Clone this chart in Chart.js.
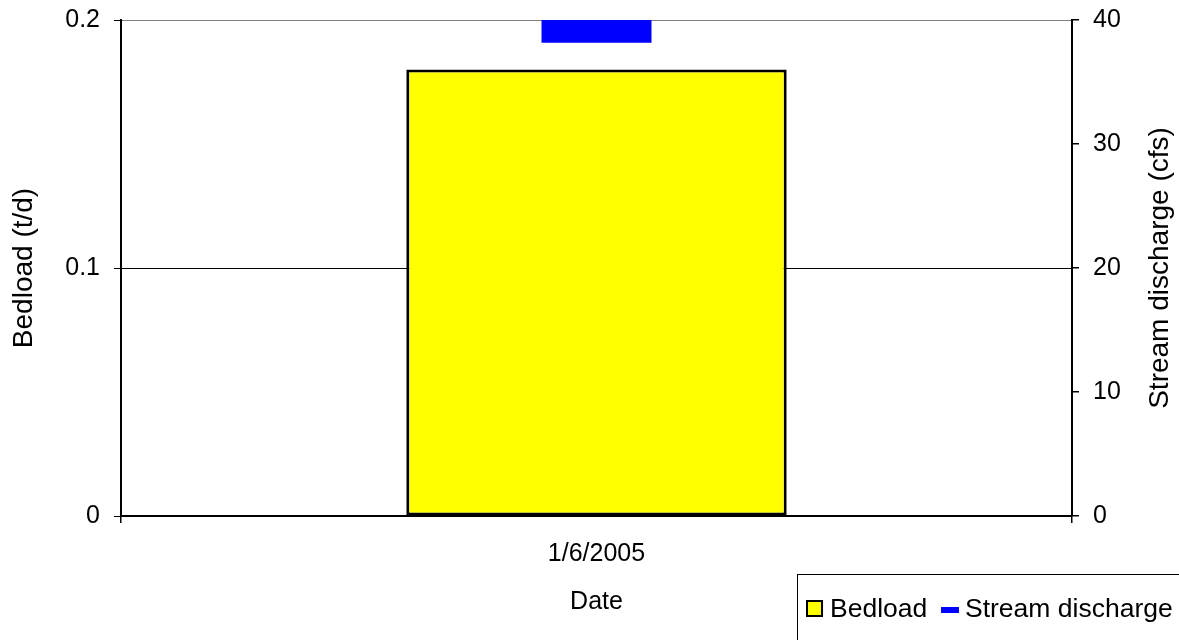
<!DOCTYPE html>
<html>
<head>
<meta charset="utf-8">
<script src="https://cdn.jsdelivr.net/npm/chart.js@4"></script>
<style>
  body { margin: 0; background: #fff; }
  #wrap { width: 1179px; height: 640px; }
</style>
</head>
<body>
<div id="wrap"><canvas id="cv1" width="1179" height="640"></canvas></div>
<script>
// chart values
const dates = ['1/6/2005'];
const bedload = [0.18];          // t/d
const discharge = [39.1];        // cfs
const leftTicks = [0, 0.1, 0.2];
const rightTicks = [0, 10, 20, 30, 40];

const FONT = 'Liberation Sans, Arial, sans-serif';
Chart.defaults.font.family = FONT;
Chart.defaults.font.size = 25;
Chart.defaults.color = '#000';

// right axis title reads bottom-to-top, so draw it ourselves
const rightTitle = {
  id: 'rightTitle',
  afterDraw(chart) {
    const c = chart.ctx, a = chart.chartArea;
    c.save();
    c.font = '28px ' + FONT;
    c.fillStyle = '#000';
    c.translate(1160, (a.top + a.bottom) / 2);
    c.rotate(-Math.PI / 2);
    c.textAlign = 'center';
    c.textBaseline = 'middle';
    c.fillText('Stream discharge (cfs)', 0, 0);
    c.restore();
  }
};

// boxed legend in the bottom right corner
const boxLegend = {
  id: 'boxLegend',
  afterDraw(chart) {
    const c = chart.ctx;
    const ds = chart.data.datasets;
    c.save();
    c.strokeStyle = '#000';
    c.lineWidth = 1;
    c.strokeRect(797.5, 574.5, 420, 100);
    // bedload swatch
    c.fillStyle = ds[0].backgroundColor;
    c.fillRect(807, 601, 15, 15);
    c.lineWidth = 2;
    c.strokeRect(807, 601, 15, 15);
    // discharge swatch
    c.fillStyle = ds[1].borderColor;
    c.fillRect(941, 607, 18, 6);
    c.fillStyle = '#000';
    c.font = '26.5px ' + FONT;
    c.textBaseline = 'alphabetic';
    c.fillText(ds[0].label, 830, 617);
    c.fillText(ds[1].label, 965, 617);
    c.restore();
  }
};

function fixV(w) {
  return s => { s.width = w; s.paddingTop = 0; s.paddingBottom = 0; };
}

const ctx = document.getElementById('cv1').getContext('2d');
const chart = new Chart(ctx, {
  data: {
    labels: dates,
    datasets: [{
      type: 'bar',
      label: 'Bedload',
      data: bedload,
      yAxisID: 'y',
      backgroundColor: '#FFFF00',
      borderColor: '#000',
      borderWidth: 3,
      borderSkipped: false,
      barPercentage: 0.4,
      categoryPercentage: 1,
      order: 2
    }, {
      type: 'line',
      label: 'Stream discharge',
      data: discharge,
      yAxisID: 'y1',
      showLine: false,
      borderColor: '#0000FF',
      backgroundColor: '#0000FF',
      pointStyle: 'line',
      pointRadius: 55,
      pointHoverRadius: 55,
      pointBorderWidth: 23,
      order: 1
    }]
  },
  options: {
    responsive: false,
    animation: false,
    layout: { autoPadding: false, padding: { top: 20, left: 0, right: 0, bottom: 0 } },
    plugins: {
      legend: { display: false },
      tooltip: { enabled: false }
    },
    scales: {
      x: {
        afterFit(s) { s.height = 124; s.paddingLeft = 0; s.paddingRight = 0; },
        grid: { offset: true, drawOnChartArea: false, tickLength: 7, color: '#000', lineWidth: 1.5 },
        border: { color: '#000', width: 2 },
        ticks: { padding: 16 },
        title: { display: true, text: 'Date', padding: { top: 0, bottom: 23 } }
      },
      y: {
        position: 'left',
        min: 0, max: 0.2,
        afterFit: fixV(121),
        afterBuildTicks(s) { s.ticks = leftTicks.map(v => ({ value: v })); },
        grid: {
          tickLength: 7,
          color: c => c.tick && c.tick.value === 0.2 ? '#808080' : '#000',
          tickColor: '#000'
        },
        border: { color: '#000', width: 2 },
        ticks: { padding: 14 },
        title: { display: true, text: 'Bedload (t/d)', font: { size: 28 }, padding: { top: 7, bottom: 0 } }
      },
      y1: {
        position: 'right',
        min: 0, max: 40,
        afterFit: fixV(107),
        afterBuildTicks(s) { s.ticks = rightTicks.map(v => ({ value: v })); },
        grid: { drawOnChartArea: false, tickLength: 7, color: '#000', lineWidth: 1.5 },
        border: { color: '#000', width: 2 },
        ticks: { padding: 14 }
      }
    }
  },
  plugins: [rightTitle, boxLegend]
});
</script>
</body>
</html>
